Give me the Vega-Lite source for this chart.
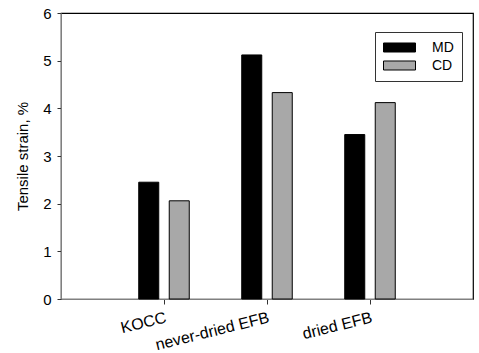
{
  "$schema": "https://vega.github.io/schema/vega-lite/v6.json",
  "width": 412,
  "height": 286,
  "autosize": "none",
  "padding": {"left": 61, "top": 13, "right": 6, "bottom": 54},
  "background": "white",
  "config": {
    "font": "Liberation Sans",
    "view": {"stroke": "black", "strokeWidth": 1.2},
    "axis": {"grid": false, "domainColor": "#808080", "tickColor": "#333333", "labelColor": "black", "titleColor": "black"}
  },
  "data": {
    "values": [
      {"sample": "KOCC", "direction": "MD", "strain": 2.45},
      {"sample": "KOCC", "direction": "CD", "strain": 2.06},
      {"sample": "never-dried EFB", "direction": "MD", "strain": 5.12},
      {"sample": "never-dried EFB", "direction": "CD", "strain": 4.33},
      {"sample": "dried EFB", "direction": "MD", "strain": 3.45},
      {"sample": "dried EFB", "direction": "CD", "strain": 4.12}
    ]
  },
  "mark": {"type": "bar", "stroke": "black", "strokeWidth": 1},
  "encoding": {
    "x": {
      "field": "sample",
      "type": "nominal",
      "sort": ["KOCC", "never-dried EFB", "dried EFB"],
      "scale": {"paddingInner": 0, "paddingOuter": 0.5},
      "axis": {"title": null, "labelAngle": -14, "labelAlign": "right", "labelBaseline": "top", "labelFontSize": 16, "tickSize": 5, "labelPadding": 5, "domainColor": "#808080"}
    },
    "xOffset": {
      "field": "direction",
      "type": "nominal",
      "sort": ["MD", "CD"],
      "scale": {"paddingInner": 0.344, "paddingOuter": 0.86}
    },
    "y": {
      "field": "strain",
      "type": "quantitative",
      "scale": {"domain": [0, 6]},
      "axis": {"title": "Tensile strain, %", "values": [0, 1, 2, 3, 4, 5, 6], "labelFontSize": 15, "titleFontSize": 15, "titleFontWeight": "normal", "tickSize": 4, "labelPadding": 6, "titlePadding": 12}
    },
    "color": {
      "field": "direction",
      "type": "nominal",
      "sort": ["MD", "CD"],
      "scale": {"domain": ["MD", "CD"], "range": ["#000000", "#a8a8a8"]},
      "legend": {
        "title": null,
        "orient": "none",
        "legendX": 314,
        "legendY": 19,
        "strokeColor": "#333333",
        "padding": 8,
        "symbolType": "M-2.2857,-0.643L2.2857,-0.643L2.2857,0.643L-2.2857,0.643Z",
        "symbolSize": 196,
        "symbolOffset": 9,
        "symbolStrokeColor": "black",
        "symbolStrokeWidth": 1,
        "symbolOpacity": 1,
        "labelFontSize": 14,
        "labelOffset": 25,
        "rowPadding": 3
      }
    }
  }
}
